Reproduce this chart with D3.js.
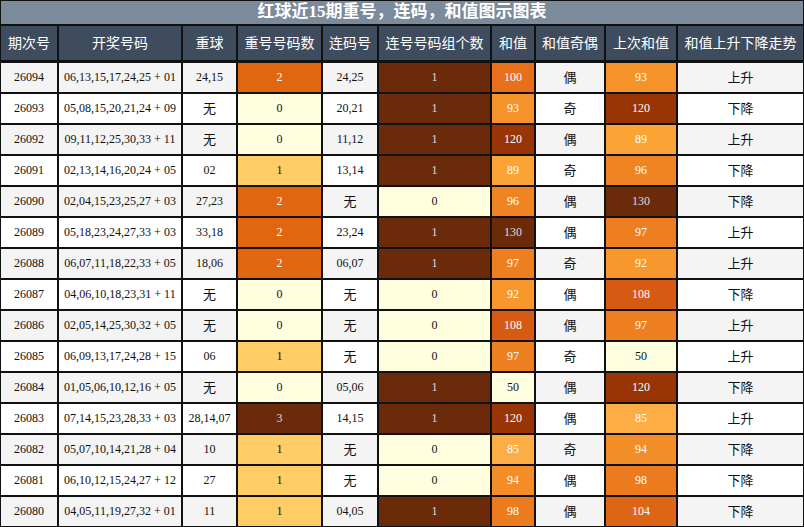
<!DOCTYPE html>
<html><head><meta charset="utf-8">
<script src="https://cdn.jsdelivr.net/npm/d3@7"></script>
<style>body{margin:0;background:#fff}</style>
</head><body><div id="chart"></div>
<script>
// table data
const headers = ["期次号","开奖号码","重球","重号号码数","连码号","连号号码组个数","和值","和值奇偶","上次和值","和值上升下降走势"];
const periods = ["26094","26093","26092","26091","26090","26089","26088","26087","26086","26085","26084","26083","26082","26081","26080"];
const draws = ["06,13,15,17,24,25 + 01","05,08,15,20,21,24 + 09","09,11,12,25,30,33 + 11","02,13,14,16,20,24 + 05","02,04,15,23,25,27 + 03","05,18,23,24,27,33 + 03","06,07,11,18,22,33 + 05","04,06,10,18,23,31 + 11","02,05,14,25,30,32 + 05","06,09,13,17,24,28 + 15","01,05,06,10,12,16 + 05","07,14,15,23,28,33 + 03","05,07,10,14,21,28 + 04","06,10,12,15,24,27 + 12","04,05,11,19,27,32 + 01"];
const repeats = ["24,15","无","无","02","27,23","33,18","18,06","无","无","06","无","28,14,07","10","27","11"];
const repeatCount = [2,0,0,1,2,2,2,0,0,1,0,3,1,1,1];
const consec = ["24,25","20,21","11,12","13,14","无","23,24","06,07","无","无","无","05,06","14,15","无","无","04,05"];
const consecCount = [1,1,1,1,0,1,1,0,0,0,1,1,0,0,1];
const sums = [100,93,120,89,96,130,97,92,108,97,50,120,85,94,98];
const parity = ["偶","奇","偶","奇","偶","偶","奇","偶","偶","奇","偶","偶","奇","偶","偶"];
const prevSums = [93,120,89,96,130,97,92,108,97,50,120,85,94,98,104];
const trend = ["上升","下降","上升","下降","下降","上升","上升","下降","上升","上升","下降","上升","下降","下降","下降"];

const W = 804, H = 527, titleH = 25, headH = 36, rowH = 31;
const colEdges = [0,58,182,237,322,378,491,535,605,677,804];

const svg = d3.select("#chart").append("svg").attr("width", W).attr("height", H);

const y = d3.scaleBand().domain(d3.range(periods.length)).range([titleH + headH + 1, H]);

const sumColor = d3.scaleLinear().domain([50,90,100,110,120,130])
  .range(["#ffffe0","#fba130","#e8701b","#d2550e","#993404","#6b2a0a"]);
const repColor = d3.scaleOrdinal().domain([0,1,2,3]).range(["#ffffe0","#ffcc66","#e0660f","#6b2a0a"]);
const conColor = d3.scaleOrdinal().domain([0,1]).range(["#ffffe0","#6b2a0a"]);
const darkText = c => d3.hsl(c).l > 0.75 || (d3.rgb(c).g > 180);

svg.append("rect").attr("width", W).attr("height", H).attr("fill", "#111");
svg.append("rect").attr("x",1).attr("y",1).attr("width",W-2).attr("height",titleH-2).attr("fill","#7b8b9b");
svg.append("text").attr("x",W/2).attr("y",titleH/2+1).attr("text-anchor","middle").attr("dominant-baseline","middle")
  .attr("fill","#fff").attr("font-weight","bold").attr("font-size",17)
  .attr("font-family","'Liberation Serif','Noto Sans CJK SC',serif").text("红球近15期重号，连码，和值图示图表");

headers.forEach((h,i) => {
  const x0 = colEdges[i], x1 = colEdges[i+1];
  svg.append("rect").attr("x",x0+1).attr("y",titleH+1).attr("width",x1-x0-2).attr("height",headH-2).attr("fill","#3e4c5e");
  svg.append("text").attr("x",(x0+x1)/2).attr("y",titleH+headH/2+1).attr("text-anchor","middle").attr("dominant-baseline","middle")
    .attr("fill","#fff").attr("font-size",14).attr("font-family","'Noto Sans CJK SC',sans-serif").text(h);
});

const rows = periods.map((p,i) => {
  const bg = i % 2 === 0 ? "#f4f4f4" : "#ffffff";
  return [
    [p,bg],[draws[i],bg],[repeats[i],bg],
    [repeatCount[i], repColor(repeatCount[i])],
    [consec[i],bg],
    [consecCount[i], conColor(consecCount[i])],
    [sums[i], sumColor(sums[i])],
    [parity[i],bg],
    [prevSums[i], sumColor(prevSums[i])],
    [trend[i],bg]
  ];
});

rows.forEach((r,i) => {
  r.forEach(([v,c],j) => {
    const x0 = colEdges[j], x1 = colEdges[j+1];
    svg.append("rect").attr("x",x0+1).attr("y",y(i)+1).attr("width",x1-x0-2).attr("height",y.bandwidth()-2).attr("fill",c);
    const cjk = /[^\x00-\x7f]/.test(String(v));
    const isColored = [3,5,6,8].includes(j);
    svg.append("text").attr("x",(x0+x1)/2).attr("y",y(i)+y.bandwidth()/2+1)
      .attr("text-anchor","middle").attr("dominant-baseline","middle")
      .attr("font-size", cjk ? 13 : 12)
      .attr("font-family", cjk ? "'Noto Sans CJK SC',sans-serif" : "'Liberation Serif',serif")
      .attr("fill", isColored && !darkText(c) ? (d3.hsl(c).l < 0.3 ? "#ddd" : "#fff") : "#111")
      .text(v);
  });
});
</script></body></html>
